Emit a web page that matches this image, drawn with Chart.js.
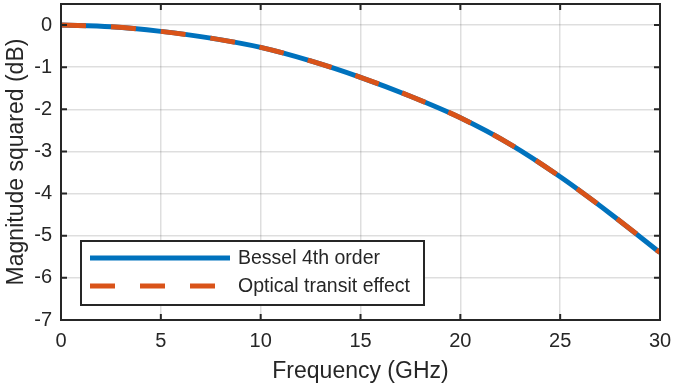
<!DOCTYPE html>
<html>
<head>
<meta charset="utf-8">
<script src="https://cdn.jsdelivr.net/npm/chart.js@4"></script>
<style>
  html, body { margin: 0; padding: 0; background: #fff; }
  #wrap { width: 673px; height: 389px; }
</style>
</head>
<body>
<div id="wrap"><canvas id="chart" width="673" height="389"></canvas></div>
<script>
// ---- data ----
const freqGHz   = [0, 2.5, 5, 7.5, 10, 12.5, 15, 17.5, 20, 22.5, 25, 27.5, 30];
const bessel4   = [0, -0.04, -0.15, -0.31, -0.53, -0.85, -1.24, -1.69, -2.20, -2.83, -3.60, -4.47, -5.40];
const transit   = [0, -0.04, -0.15, -0.31, -0.53, -0.85, -1.24, -1.69, -2.20, -2.83, -3.60, -4.47, -5.40];
const xTicks    = [0, 5, 10, 15, 20, 25, 30];
const yTicks    = [-7, -6, -5, -4, -3, -2, -1, 0];
const seriesNames = ["Bessel 4th order", "Optical transit effect"];

const FONT = "'Liberation Sans', Arial, Helvetica, sans-serif";
const INK  = "#262626";
const BLUE = "#0072BD";
const ORANGE = "#D95319";

const toPts = ys => freqGHz.map((x, i) => ({ x, y: ys[i] }));

// frame + inward ticks on all four sides, like the matlab box
const framePlugin = {
  id: "frame",
  afterDatasetsDraw(chart) {
    const { ctx, chartArea: a, scales: { x, y } } = chart;
    ctx.save();
    ctx.strokeStyle = INK;
    ctx.lineWidth = 2;
    const tl = 6;
    ctx.beginPath();
    xTicks.forEach(v => {
      const px = x.getPixelForValue(v);
      ctx.moveTo(px, a.bottom); ctx.lineTo(px, a.bottom - tl);
      ctx.moveTo(px, a.top);    ctx.lineTo(px, a.top + tl);
    });
    yTicks.forEach(v => {
      const py = y.getPixelForValue(v);
      ctx.moveTo(a.left, py);  ctx.lineTo(a.left + tl, py);
      ctx.moveTo(a.right, py); ctx.lineTo(a.right - tl, py);
    });
    ctx.stroke();
    ctx.strokeRect(a.left, a.top, a.right - a.left, a.bottom - a.top);
    ctx.restore();
  }
};

// legend box in lower-left corner of the plot
const legendPlugin = {
  id: "boxLegend",
  afterDraw(chart) {
    const { ctx, chartArea: a } = chart;
    const bx = a.left + 20, by = a.bottom - 79, bw = 343, bh = 64;
    ctx.save();
    ctx.fillStyle = "#fff";
    ctx.fillRect(bx, by, bw, bh);
    ctx.strokeStyle = INK;
    ctx.lineWidth = 2;
    ctx.strokeRect(bx, by, bw, bh);
    ctx.font = `19.5px ${FONT}`;
    ctx.textBaseline = "middle";
    chart.data.datasets.forEach((ds, i) => {
      const ly = by + 17 + i * 28;
      ctx.beginPath();
      ctx.strokeStyle = ds.borderColor;
      ctx.lineWidth = ds.borderWidth;
      ctx.setLineDash(ds.borderDash || []);
      ctx.moveTo(bx + 9, ly);
      ctx.lineTo(bx + 149, ly);
      ctx.stroke();
      ctx.setLineDash([]);
      ctx.fillStyle = INK;
      ctx.fillText(ds.label, bx + 157, ly + 1);
    });
    ctx.restore();
  }
};

new Chart(document.getElementById("chart"), {
  type: "line",
  data: {
    datasets: [
      { label: seriesNames[0], data: toPts(bessel4), borderColor: BLUE, borderWidth: 5,
        order: 2, pointRadius: 0, cubicInterpolationMode: "monotone", fill: false },
      { label: seriesNames[1], data: toPts(transit), borderColor: ORANGE, borderWidth: 5,
        order: 1, borderDash: [25, 25], pointRadius: 0, cubicInterpolationMode: "monotone", fill: false }
    ]
  },
  options: {
    responsive: false,
    animation: false,
    events: [],
    layout: { padding: { top: 4, right: 13, left: 0, bottom: 0 } },
    plugins: { legend: { display: false }, tooltip: { enabled: false } },
    scales: {
      x: {
        type: "linear", min: 0, max: 30,
        afterBuildTicks: s => { s.ticks = xTicks.map(v => ({ value: v })); },
        afterFit: s => { s.height = 69; s.paddingLeft = 0; s.paddingRight = 0; },
        grid: { color: "rgba(0,0,0,0.13)", lineWidth: 1.5, drawTicks: false },
        border: { display: false },
        ticks: { color: INK, padding: 9, maxRotation: 0, font: { family: FONT, size: 20 } },
        title: { display: true, text: "Frequency (GHz)", color: INK,
                 font: { family: FONT, size: 23 }, padding: { top: 0, bottom: 4 } }
      },
      y: {
        type: "linear", min: -7, max: 0.5,
        afterBuildTicks: s => { s.ticks = yTicks.map(v => ({ value: v })); },
        afterFit: s => { s.width = 61; s.paddingTop = 0; s.paddingBottom = 0; },
        grid: { color: "rgba(0,0,0,0.13)", lineWidth: 1.5, drawTicks: false },
        border: { display: false },
        ticks: { color: INK, padding: 9, font: { family: FONT, size: 20 } },
        title: { display: true, text: "Magnitude squared (dB)", color: INK,
                 font: { family: FONT, size: 23 }, padding: { top: 3, bottom: 0 } }
      }
    }
  },
  plugins: [framePlugin, legendPlugin]
});
</script>
</body>
</html>
